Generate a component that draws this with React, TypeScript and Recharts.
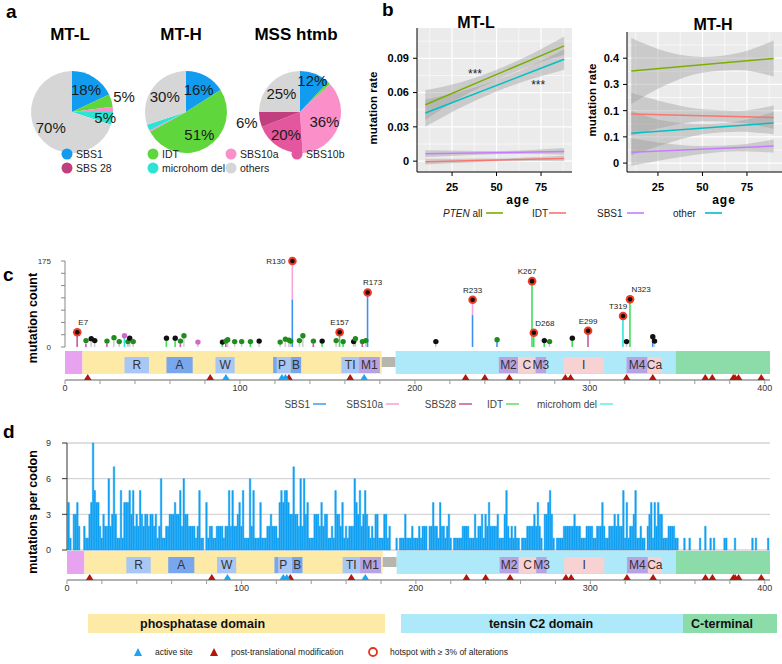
import React from "react";
import {
  PieChart,
  Pie,
  Cell,
  ComposedChart,
  Area,
  Line,
  Bar,
  Scatter,
  XAxis,
  YAxis,
  CartesianGrid,
  ReferenceArea,
  ReferenceDot,
} from "recharts";

const FONT = '"Liberation Sans", Arial, Helvetica, sans-serif';

// ---------- a: signature shares per cohort (%) ----------
const mtlSigs = ["SBS1", "IDT", "SBS10a", "microhom del", "others"];
const mtlShares = [18, 5, 2, 5, 70];
const mthSigs = ["SBS1", "IDT", "SBS10a", "microhom del", "others"];
const mthShares = [16, 51, 0.5, 2.5, 30];
const mssSigs = ["SBS1", "IDT", "SBS10a", "SBS10b", "SBS 28", "others"];
const mssShares = [12, 1, 36, 20, 6, 25];
const pieLegend = ["SBS1", "IDT", "SBS10a", "SBS10b", "SBS 28", "microhom del", "others"];

// ---------- b: linear fits of mutation rate vs age, with 95% bands ----------
const mtlBandAges = [10, 30, 50, 70, 88];
const mtlBandAll = [[0.036, 0.062], [0.056, 0.069], [0.071, 0.08], [0.084, 0.094], [0.093, 0.109]];
const mtlBandOther = [[0.03, 0.054], [0.047, 0.061], [0.061, 0.071], [0.072, 0.084], [0.08, 0.098]];
const mtlBandSbs1 = [[0.0035, 0.0095], [0.005, 0.009], [0.006, 0.0088], [0.0063, 0.0098], [0.0055, 0.0115]];
const mtlBandIdt = [[-0.003, 0.0022], [-0.0015, 0.0022], [-0.0002, 0.0023], [0.0002, 0.0035], [0.0, 0.005]];
const mtlFitAges = [10, 88];
const mtlFitAll = [0.0494, 0.1009];
const mtlFitOther = [0.0421, 0.0891];
const mtlFitSbs1 = [0.0064, 0.0084];
const mtlFitIdt = [-0.0006, 0.0024];

const mthBandAges = [10, 30, 50, 70, 90];
const mthBandAll = [[0.225, 0.477], [0.3, 0.425], [0.345, 0.405], [0.355, 0.42], [0.33, 0.468]];
const mthBandIdt = [[0.105, 0.268], [0.14, 0.23], [0.16, 0.205], [0.155, 0.2], [0.13, 0.22]];
const mthBandOther = [[0.03, 0.2], [0.075, 0.16], [0.11, 0.15], [0.12, 0.16], [0.11, 0.195]];
const mthBandSbs1 = [[-0.01, 0.095], [0.015, 0.075], [0.035, 0.065], [0.045, 0.07], [0.04, 0.09]];
const mthFitAges = [10, 90];
const mthFitAll = [0.351, 0.399];
const mthFitIdt = [0.187, 0.174];
const mthFitOther = [0.114, 0.153];
const mthFitSbs1 = [0.041, 0.065];

const mtlYTicks = [0, 0.03, 0.06, 0.09];
const mtlYText = ["0", "0.03", "0.06", "0.09"];
const mthYTicks = [0, 0.1, 0.2, 0.3, 0.4];
const mthYText = ["0", "0.1", "0.1", "0.3", "0.4"];
const ageTicks = [25, 50, 75];

// ---------- c: hotspot lollipops ----------
const lolliPos = [7, 12, 15, 17, 24, 28, 31, 34, 36, 37, 39, 58, 63, 66, 68, 76, 90, 92, 93, 97, 101, 106, 111, 123, 126, 128, 129, 130, 134, 136, 142, 147, 155, 157, 159, 165, 166, 170, 172, 173, 212, 233, 247, 267, 268, 274, 277, 290, 299, 319, 321, 323, 336, 337];
const lolliCount = [30, 13, 17, 13, 12, 19, 11, 23, 11, 18, 11, 18, 18, 12, 23, 10, 10, 12, 15, 11, 11, 11, 12, 10, 16, 14, 12, 175, 13, 23, 12, 12, 13, 30, 11, 11, 17, 11, 13, 111, 11, 96, 15, 134, 29, 13, 11, 18, 33, 63, 11, 97, 21, 12];
const lolliDot = ["hot", "mis", "trunc", "trunc", "mis", "mis", "mis", "inf", "mis", "trunc", "mis", "trunc", "trunc", "mis", "mis", "inf", "trunc", "mis", "mis", "mis", "mis", "mis", "trunc", "mis", "mis", "mis", "mis", "hot", "mis", "mis", "mis", "trunc", "mis", "hot", "mis", "trunc", "mis", "mis", "mis", "hot", "trunc", "hot", "mis", "hot", "hot", "trunc", "mis", "trunc", "hot", "hot", "trunc", "hot", "trunc", "trunc"];
const lolliBaseSig = ["SBS28", "SBS28", "other", "other", "SBS28", "other", "other", "microhom del", "other", "other", "other", "IDT", "IDT", "SBS28", "other", "other", "IDT", "SBS28", "other", "other", "other", "IDT", "other", "other", "other", "other", "other", "SBS1", "other", "other", "SBS28", "IDT", "other", "IDT", "IDT", "other", "other", "SBS28", "other", "SBS1", "other", "SBS1", "SBS1", "IDT", "IDT", "IDT", "other", "IDT", "SBS28", "microhom del", "other", "IDT", "SBS1", "other"];
const lolliBaseN = [30, 6, 17, 13, 6, 19, 11, 23, 11, 18, 11, 18, 18, 6, 23, 10, 10, 6, 15, 11, 11, 11, 12, 10, 16, 14, 12, 97, 13, 23, 6, 12, 13, 30, 11, 11, 17, 6, 13, 111, 11, 65, 15, 134, 29, 13, 11, 18, 33, 63, 11, 97, 21, 12];
const lolliTopSig = ["other", "other", "other", "other", "other", "other", "other", "other", "other", "other", "other", "other", "other", "other", "other", "other", "other", "other", "other", "other", "other", "other", "other", "other", "other", "other", "other", "SBS10a", "other", "other", "other", "other", "other", "other", "other", "other", "other", "other", "other", "other", "other", "SBS10a", "other", "other", "other", "other", "other", "other", "other", "other", "other", "other", "other", "other"];
const hotspotPos = [7, 130, 157, 173, 233, 267, 268, 299, 319, 323];
const hotspotName = ["E7", "R130", "E157", "R173", "R233", "K267", "D268", "E299", "T319", "N323"];
const countTicks = [0, 25, 50, 75, 100, 125, 150, 175];

// ---------- protein track (PTEN, 403 aa) ----------
const domainName = ["PBD", "phosphatase", "linker", "C2", "C-tail"];
const domainStart = [0, 10, 181, 189, 349];
const domainEnd = [10, 181, 189, 349, 403];
const motifName = ["R", "A", "W", "P", "", "B", "TI", "M1", "M2", "C", "M3", "I", "M4", "Ca"];
const motifStart = [34, 58, 86, 119, 119, 129, 158, 168, 248, 259, 269, 285, 321, 333];
const motifEnd = [48, 73, 97, 129, 121, 135, 168, 180, 259, 269, 275, 308, 333, 341];
const motifKind = ["light", "dark", "light", "light", "dark", "dark", "light", "lav", "lav", "pink", "lav", "pink", "lav", "pink"];
const ptmSites = [13, 83, 128, 163, 229, 240, 254, 286, 289, 321, 336, 366, 370, 382, 383, 385, 398];
const activeSites = [92, 124, 126, 171];
const posTicks = [0, 20, 40, 60, 80, 100, 120, 140, 160, 180, 200, 220, 240, 260, 280, 300, 320, 340, 360, 380, 400];

// ---------- d: mutations per codon (codons 1..403) ----------
const codonCounts = [
  4, 1, 0, 3, 3, 4, 2, 0, 0, 2, 1, 1, 3, 4, 9, 5, 4, 4, 2, 1,
  3, 2, 2, 6, 2, 3, 7, 3, 1, 1, 5, 1, 4, 4, 4, 5, 3, 5, 2, 3,
  2, 5, 3, 2, 3, 3, 2, 3, 3, 2, 3, 1, 2, 6, 1, 1, 2, 2, 3, 3,
  3, 4, 3, 3, 5, 2, 6, 3, 3, 2, 2, 2, 2, 1, 2, 5, 1, 1, 0, 4,
  1, 2, 2, 1, 1, 2, 2, 2, 2, 1, 2, 2, 5, 2, 5, 2, 2, 3, 4, 2,
  5, 1, 1, 1, 6, 2, 5, 1, 1, 1, 4, 1, 1, 1, 2, 2, 3, 2, 2, 2,
  1, 4, 5, 4, 5, 5, 4, 3, 3, 7, 3, 3, 2, 6, 2, 6, 3, 4, 1, 1,
  1, 3, 3, 3, 2, 4, 2, 3, 3, 1, 1, 2, 1, 5, 3, 3, 2, 4, 1, 2,
  1, 2, 2, 2, 6, 4, 3, 5, 2, 3, 5, 3, 2, 1, 2, 1, 3, 3, 1, 1,
  1, 3, 3, 1, 2, 0, 0, 0, 1, 0, 1, 1, 1, 3, 1, 1, 1, 2, 1, 1,
  1, 2, 1, 2, 2, 2, 0, 2, 2, 4, 2, 2, 1, 4, 2, 2, 1, 2, 3, 1,
  0, 1, 1, 1, 1, 1, 2, 2, 2, 2, 1, 1, 1, 3, 1, 2, 2, 3, 1, 3,
  2, 4, 2, 2, 2, 2, 3, 1, 1, 1, 3, 5, 2, 1, 2, 1, 2, 1, 1, 0,
  1, 1, 1, 2, 2, 2, 2, 3, 2, 4, 2, 1, 0, 3, 3, 4, 5, 3, 1, 0,
  1, 1, 1, 1, 2, 2, 2, 2, 2, 2, 3, 2, 2, 2, 1, 1, 1, 2, 2, 2,
  2, 1, 1, 2, 2, 2, 4, 2, 1, 1, 2, 2, 2, 3, 2, 3, 2, 2, 5, 1,
  4, 1, 2, 2, 3, 5, 1, 1, 2, 1, 1, 0, 2, 3, 4, 1, 4, 2, 4, 3,
  3, 1, 1, 1, 2, 2, 2, 2, 1, 1, 0, 0, 0, 1, 0, 0, 1, 0, 0, 0,
  0, 0, 1, 0, 0, 2, 0, 0, 1, 0, 1, 0, 0, 0, 0, 0, 1, 1, 0, 0,
  0, 0, 1, 0, 0, 0, 0, 0, 0, 0, 0, 0, 1, 0, 1, 0, 0, 0, 0, 0,
  0, 1, 0,
];

// ---------- colours ----------
const sigColor: Record<string, string> = {
  SBS1: "#129cf0",
  IDT: "#5fd63c",
  SBS10a: "#fb8fca",
  SBS10b: "#e4579e",
  "SBS 28": "#c13f7e",
  "microhom del": "#2de3d4",
  others: "#d6d6d6",
};
const fitColor = { all: "#7cae00", IDT: "#f8766d", SBS1: "#c77cff", other: "#00bfc4" };
const stemColor: Record<string, string> = {
  SBS1: "#3d8ff0",
  SBS10a: "#f4a6d8",
  SBS28: "#c9559f",
  IDT: "#3fdc5a",
  "microhom del": "#25e8e0",
  other: "#cfcfcf",
};
const dotColor: Record<string, string> = { mis: "#1e8c1e", trunc: "#111111", inf: "#d268c8" };
const domainColor: Record<string, string> = {
  PBD: "#e7a3f0",
  phosphatase: "#fdeaa6",
  linker: "#b6b6ae",
  C2: "#ade9f9",
  "C-tail": "#8cdca9",
};
const motifColor: Record<string, string> = { light: "#a9c7f4", dark: "#79a7ee", lav: "#b7a2e2", pink: "#f8d2d2" };
const codonColor = "#12a0f2";

// ---------- a ----------
const pctLabel = (outside: string[]) => (props: any) => {
  const { cx, cy, midAngle, outerRadius, value } = props;
  const name = props.payload?.name ?? props.name;
  if (value < 4) return null;
  const out = outside.includes(name);
  const k = out ? 1.32 : value < 15 ? 0.82 : 0.64;
  const a = (-midAngle * Math.PI) / 180;
  return (
    <text
      x={cx + outerRadius * k * Math.cos(a)}
      y={cy + outerRadius * k * Math.sin(a)}
      textAnchor="middle"
      dominantBaseline="central"
      fontSize={15}
      fill="#1a1a1a"
      fontFamily={FONT}
    >
      {value}%
    </text>
  );
};

const PiePanel = () => {
  const pies = [
    { key: "MT-L", cx: 67, data: mtlSigs.map((name, i) => ({ name, value: mtlShares[i] })), outside: ["IDT"] },
    { key: "MT-H", cx: 181, data: mthSigs.map((name, i) => ({ name, value: mthShares[i] })), outside: [] },
    { key: "MSS", cx: 295, data: mssSigs.map((name, i) => ({ name, value: mssShares[i] })), outside: ["SBS 28"] },
  ];
  return (
    <div style={{ position: "absolute", left: 0, top: 0 }}>
      <PieChart width={390} height={180}>
        {pies.map((p) => (
          <Pie
            key={p.key}
            data={p.data}
            dataKey="value"
            nameKey="name"
            cx={p.cx}
            cy={107}
            outerRadius={41}
            startAngle={90}
            endAngle={-270}
            stroke="none"
            labelLine={false}
            label={pctLabel(p.outside)}
            isAnimationActive={false}
          >
            {p.data.map((d) => (
              <Cell key={d.name} fill={sigColor[d.name]} />
            ))}
          </Pie>
        ))}
      </PieChart>
    </div>
  );
};

// ---------- b ----------
type TrendProps = {
  left: number;
  top: number;
  xDomain: [number, number];
  yDomain: [number, number];
  yTicks: number[];
  yText: string[];
  bandAges: number[];
  bands: number[][][];
  fitAges: number[];
  fits: { color: string; vals: number[] }[];
  stars?: { x: number; y: number }[];
};

const TrendPanel = ({ left, top, xDomain, yDomain, yTicks, yText, bandAges, bands, fitAges, fits, stars = [] }: TrendProps) => {
  const step = yTicks[1] - yTicks[0];
  const yMinor = yTicks.map((v) => v + step / 2);
  const axisTick = { fontSize: 11, fontWeight: "bold", fill: "#000", fontFamily: FONT };
  return (
    <div style={{ position: "absolute", left, top: 0 }}>
      <ComposedChart width={212} height={195} margin={{ top, right: 0, bottom: 5, left: 0 }}>
        <CartesianGrid fill="#ebebeb" stroke="#ffffff" strokeWidth={0.6} horizontalValues={yMinor} verticalValues={[12.5, 37.5, 62.5, 87.5]} />
        <CartesianGrid stroke="#ffffff" strokeWidth={1.2} horizontalValues={yTicks} verticalValues={ageTicks} />
        <XAxis
          type="number"
          dataKey="age"
          domain={xDomain}
          allowDataOverflow
          ticks={ageTicks}
          height={18}
          tickSize={4}
          tickMargin={7}
          axisLine={{ stroke: "#000" }}
          tickLine={{ stroke: "#000" }}
          tick={axisTick}
        />
        <YAxis
          type="number"
          domain={yDomain}
          allowDataOverflow
          ticks={yTicks}
          interval={0}
          width={57}
          tickSize={4}
          tickMargin={4}
          tickFormatter={(v: number) => yText[yTicks.indexOf(v)] ?? ""}
          axisLine={{ stroke: "#000" }}
          tickLine={{ stroke: "#000" }}
          tick={axisTick}
        />
        {bands.map((b, k) => (
          <Area
            key={"band" + k}
            data={bandAges.map((age, i) => ({ age, band: b[i] }))}
            dataKey="band"
            type="monotone"
            fill="#999999"
            fillOpacity={0.4}
            stroke="none"
            isAnimationActive={false}
          />
        ))}
        {fits.map((f, k) => (
          <Line
            key={"fit" + k}
            data={fitAges.map((age, i) => ({ age, fit: f.vals[i] }))}
            dataKey="fit"
            stroke={f.color}
            strokeWidth={1.5}
            dot={false}
            isAnimationActive={false}
          />
        ))}
        {stars.map((s, k) => (
          <ReferenceDot
            key={"star" + k}
            x={s.x}
            y={s.y}
            r={0}
            fill="none"
            stroke="none"
            ifOverflow="visible"
            label={{ value: "***", position: "center", fontSize: 12, fill: "#222" }}
          />
        ))}
      </ComposedChart>
    </div>
  );
};

// ---------- c ----------
const lolliRows = lolliPos.map((pos, i) => ({
  pos,
  count: lolliCount[i],
  base: lolliBaseN[i],
  top: lolliCount[i] - lolliBaseN[i],
  baseSig: lolliBaseSig[i],
  topSig: lolliTopSig[i],
  dot: lolliDot[i],
  name: hotspotPos.includes(pos) ? hotspotName[hotspotPos.indexOf(pos)] : "",
}));

const labelShift: Record<string, number> = { E7: 6, R173: 5, T319: -5, N323: 11, K267: -5, D268: 11 };

const LolliHead = (p: any) => {
  const { cx, cy, payload } = p;
  if (cx == null || cy == null) return null;
  if (payload.dot === "hot") {
    const toLeft = payload.name === "R130";
    return (
      <g>
        <circle cx={cx} cy={cy} r={4.3} fill="#ef3b24" />
        <circle cx={cx} cy={cy} r={2.3} fill="#111" />
        <text
          x={toLeft ? cx - 7 : cx + (labelShift[payload.name] ?? 0)}
          y={toLeft ? cy + 3 : cy - 7}
          textAnchor={toLeft ? "end" : "middle"}
          fontSize={8}
          fill="#222"
          fontFamily={FONT}
        >
          {payload.name}
        </text>
      </g>
    );
  }
  return <circle cx={cx} cy={cy} r={2.7} fill={dotColor[payload.dot]} />;
};

const LollipopPanel = () => (
  <div style={{ position: "absolute", left: 0, top: 240 }}>
    <ComposedChart width={782} height={117} data={lolliRows} margin={{ top: 21, right: 12, bottom: 10, left: 0 }}>
      <XAxis hide type="number" dataKey="pos" domain={[0, 403]} allowDataOverflow />
      <YAxis
        type="number"
        domain={[0, 175]}
        ticks={countTicks}
        interval={0}
        width={65}
        tickSize={4}
        tickMargin={10}
        tickFormatter={(v: number) => (v === 0 || v === 175 ? String(v) : "")}
        axisLine={{ stroke: "#888" }}
        tickLine={{ stroke: "#888" }}
        tick={{ fontSize: 8, fill: "#333", fontFamily: FONT }}
      />
      <Bar dataKey="base" stackId="s" barSize={2} isAnimationActive={false}>
        {lolliRows.map((r, i) => (
          <Cell key={i} fill={stemColor[r.baseSig]} />
        ))}
      </Bar>
      <Bar dataKey="top" stackId="s" barSize={2} isAnimationActive={false}>
        {lolliRows.map((r, i) => (
          <Cell key={i} fill={stemColor[r.topSig]} />
        ))}
      </Bar>
      <Scatter dataKey="count" shape={LolliHead} isAnimationActive={false} />
    </ComposedChart>
  </div>
);

// ---------- protein track ----------
const Triangle = (color: string) => (p: any) => {
  const { cx, cy } = p;
  if (cx == null || cy == null) return null;
  return <polygon points={`${cx - 3.8},${cy + 2.6} ${cx + 3.8},${cy + 2.6} ${cx},${cy - 3.4}`} fill={color} />;
};

const DomainTrack = ({ top, left }: { top: number; left: number }) => (
  <div style={{ position: "absolute", left: 0, top }}>
    <ComposedChart width={782} height={52} margin={{ top: 4, right: 12, bottom: 0, left }}>
      <XAxis
        type="number"
        dataKey="pos"
        domain={[0, 403]}
        allowDataOverflow
        ticks={posTicks}
        interval={0}
        tickFormatter={(v: number) => (v % 100 === 0 ? String(v) : "")}
        height={17}
        tickSize={4}
        tickMargin={1}
        axisLine={{ stroke: "#999", strokeWidth: 1.5 }}
        tickLine={{ stroke: "#999" }}
        tick={{ fontSize: 9, fill: "#333", fontFamily: FONT }}
      />
      <YAxis hide type="number" domain={[0, 31]} />
      {domainName.map((d, i) => (
        <ReferenceArea
          key={d}
          x1={domainStart[i]}
          x2={domainEnd[i]}
          y1={d === "linker" ? 13 : 6}
          y2={d === "linker" ? 23 : 29}
          fill={domainColor[d]}
          fillOpacity={1}
          stroke="none"
        />
      ))}
      {motifName.map((m, i) => (
        <ReferenceArea
          key={"m" + i}
          x1={motifStart[i]}
          x2={motifEnd[i]}
          y1={7}
          y2={23}
          fill={motifColor[motifKind[i]]}
          fillOpacity={1}
          stroke="none"
          label={m ? { value: m, position: "center", fontSize: 12, fill: "#333", fontFamily: FONT } : undefined}
        />
      ))}
      <Scatter
        data={ptmSites.map((pos) => ({ pos, lane: 2.5 }))}
        dataKey="lane"
        shape={Triangle("#b3160b")}
        isAnimationActive={false}
      />
      <Scatter
        data={activeSites.map((pos) => ({ pos, lane: 2.5 }))}
        dataKey="lane"
        shape={Triangle("#1ea4f0")}
        isAnimationActive={false}
      />
    </ComposedChart>
  </div>
);

// ---------- d ----------
const codonRows = codonCounts.map((n, i) => ({ pos: i + 1, n }));

const CodonPanel = () => (
  <div style={{ position: "absolute", left: 0, top: 430 }}>
    <ComposedChart width={782} height={130} data={codonRows} margin={{ top: 13, right: 12, bottom: 10, left: 0 }} barGap={0} barCategoryGap={0}>
      <CartesianGrid vertical={false} stroke="#d5d5d5" strokeWidth={1.3} />
      <XAxis hide type="number" dataKey="pos" domain={[0, 403]} allowDataOverflow />
      <YAxis
        type="number"
        domain={[0, 9]}
        ticks={[0, 3, 6, 9]}
        interval={0}
        width={67}
        tickSize={5}
        tickMargin={11}
        axisLine={{ stroke: "#333" }}
        tickLine={{ stroke: "#333" }}
        tick={{ fontSize: 9, fill: "#333", fontFamily: FONT }}
      />
      <Bar dataKey="n" fill={codonColor} stroke={codonColor} strokeWidth={0.45} barSize={2} isAnimationActive={false} />
    </ComposedChart>
  </div>
);

// ---------- text, legends, domain key ----------
const Overlay = () => {
  const pieLegendSpots = [[67, 154], [153, 154], [231, 154], [297, 154], [67, 168], [153, 168], [231, 168]];
  const bLegend = [
    { label: "all", italic: "PTEN", color: fitColor.all, tx: 443, lx: 486 },
    { label: "IDT", italic: "", color: fitColor.IDT, tx: 532, lx: 549 },
    { label: "SBS1", italic: "", color: fitColor.SBS1, tx: 597, lx: 627 },
    { label: "other", italic: "", color: fitColor.other, tx: 673, lx: 705 },
  ];
  const cLegend = [
    { label: "SBS1", color: "#4aa3f0", end: 310 },
    { label: "SBS10a", color: "#f7a8d0", end: 383 },
    { label: "SBS28", color: "#c8609d", end: 456 },
    { label: "IDT", color: "#6ede6e", end: 503 },
    { label: "microhom del", color: "#6ef0e0", end: 597 },
  ];
  return (
    <svg width={782} height={664} style={{ position: "absolute", left: 0, top: 0, pointerEvents: "none" }} fontFamily={FONT}>
      {/* panel letters */}
      <text x={6} y={18} fontSize={19} fontWeight="bold">a</text>
      <text x={382} y={16} fontSize={19} fontWeight="bold">b</text>
      <text x={3} y={281} fontSize={19} fontWeight="bold">c</text>
      <text x={3} y={438} fontSize={19} fontWeight="bold">d</text>

      {/* a */}
      <text x={70} y={40} fontSize={17} fontWeight="bold" textAnchor="middle">MT-L</text>
      <text x={181} y={40} fontSize={17} fontWeight="bold" textAnchor="middle">MT-H</text>
      <text x={296} y={40} fontSize={17} fontWeight="bold" textAnchor="middle">MSS htmb</text>
      {pieLegend.map((name, i) => (
        <g key={name}>
          <circle cx={pieLegendSpots[i][0]} cy={pieLegendSpots[i][1]} r={5.5} fill={sigColor[name]} />
          <text x={pieLegendSpots[i][0] + 9} y={pieLegendSpots[i][1] + 4} fontSize={10.5} fill="#222">{name}</text>
        </g>
      ))}

      {/* b */}
      <text x={476} y={28} fontSize={16} fontWeight="bold" textAnchor="middle">MT-L</text>
      <text x={713} y={30} fontSize={16} fontWeight="bold" textAnchor="middle">MT-H</text>
      <text x={373} y={108} fontSize={11.5} fontWeight="bold" textAnchor="middle" dominantBaseline="central" transform="rotate(-90 373 108)">mutation rate</text>
      <text x={592} y={100} fontSize={11.5} fontWeight="bold" textAnchor="middle" dominantBaseline="central" transform="rotate(-90 592 100)">mutation rate</text>
      <text x={518} y={204} fontSize={12} fontWeight="bold" textAnchor="middle" letterSpacing={1}>age</text>
      <text x={724} y={204} fontSize={12} fontWeight="bold" textAnchor="middle" letterSpacing={1}>age</text>
      {bLegend.map((l) => (
        <g key={l.label}>
          <text x={l.tx} y={217} fontSize={10} fill="#222">
            {l.italic ? <tspan fontStyle="italic">{l.italic} </tspan> : null}
            {l.label}
          </text>
          <line x1={l.lx} x2={l.lx + 17} y1={213} y2={213} stroke={l.color} strokeWidth={1.6} />
        </g>
      ))}

      {/* c */}
      <text x={33} y={318} fontSize={12.5} fontWeight="bold" textAnchor="middle" dominantBaseline="central" transform="rotate(-90 33 318)">mutation count</text>
      {cLegend.map((l) => (
        <g key={l.label}>
          <text x={l.end} y={408} fontSize={10} fill="#444" textAnchor="end">{l.label}</text>
          <line x1={l.end + 3} x2={l.end + 16} y1={404} y2={404} stroke={l.color} strokeWidth={1.6} />
        </g>
      ))}

      {/* d */}
      <text x={33} y={512} fontSize={12.5} fontWeight="bold" textAnchor="middle" dominantBaseline="central" transform="rotate(-90 33 512)">mutations per codon</text>

      {/* domain key */}
      <rect x={88} y={614} width={297} height={19} fill="#fdeaa6" />
      <rect x={401} y={614} width={282} height={19} fill="#ade9f9" />
      <rect x={683} y={614} width={94} height={19} fill="#8cdca9" />
      <text x={140} y={628} fontSize={12.5} fontWeight="bold" fill="#111">phosphatase domain</text>
      <text x={541} y={628} fontSize={12.5} fontWeight="bold" fill="#111" textAnchor="middle">tensin C2 domain</text>
      <text x={722} y={628} fontSize={12.5} fontWeight="bold" fill="#111" textAnchor="middle">C-terminal</text>

      {/* symbol legend */}
      <polygon points="134,656 142,656 138,648" fill="#1ea4f0" />
      <text x={155} y={655} fontSize={8.5} fill="#222">active site</text>
      <polygon points="210,656 218,656 214,648" fill="#b3160b" />
      <text x={231} y={655} fontSize={8.5} fill="#222">post-translational modification</text>
      <circle cx={373} cy={652} r={4} fill="none" stroke="#e8321e" strokeWidth={1.8} />
      <text x={390} y={655} fontSize={8.5} fill="#222">hotspot  with ≥ 3% of alterations</text>
    </svg>
  );
};

export default function App() {
  return (
    <div style={{ position: "absolute", left: 0, top: 0, width: 782, height: 664, background: "#fff", fontFamily: FONT, overflow: "hidden" }}>
      <PiePanel />
      <TrendPanel
        left={360}
        top={28}
        xDomain={[5.3, 92.4]}
        yDomain={[-0.0095, 0.1165]}
        yTicks={mtlYTicks}
        yText={mtlYText}
        bandAges={mtlBandAges}
        bands={[mtlBandAll, mtlBandOther, mtlBandSbs1, mtlBandIdt]}
        fitAges={mtlFitAges}
        fits={[
          { color: fitColor.all, vals: mtlFitAll },
          { color: fitColor.other, vals: mtlFitOther },
          { color: fitColor.SBS1, vals: mtlFitSbs1 },
          { color: fitColor.IDT, vals: mtlFitIdt },
        ]}
        stars={[
          { x: 37.9, y: 0.0768 },
          { x: 73.4, y: 0.0671 },
        ]}
      />
      <TrendPanel
        left={570}
        top={32}
        xDomain={[7.6, 94.7]}
        yDomain={[-0.034, 0.5]}
        yTicks={mthYTicks}
        yText={mthYText}
        bandAges={mthBandAges}
        bands={[mthBandAll, mthBandIdt, mthBandOther, mthBandSbs1]}
        fitAges={mthFitAges}
        fits={[
          { color: fitColor.all, vals: mthFitAll },
          { color: fitColor.IDT, vals: mthFitIdt },
          { color: fitColor.other, vals: mthFitOther },
          { color: fitColor.SBS1, vals: mthFitSbs1 },
        ]}
      />
      <LollipopPanel />
      <DomainTrack top={345} left={65} />
      <CodonPanel />
      <DomainTrack top={545} left={67} />
      <Overlay />
    </div>
  );
}
